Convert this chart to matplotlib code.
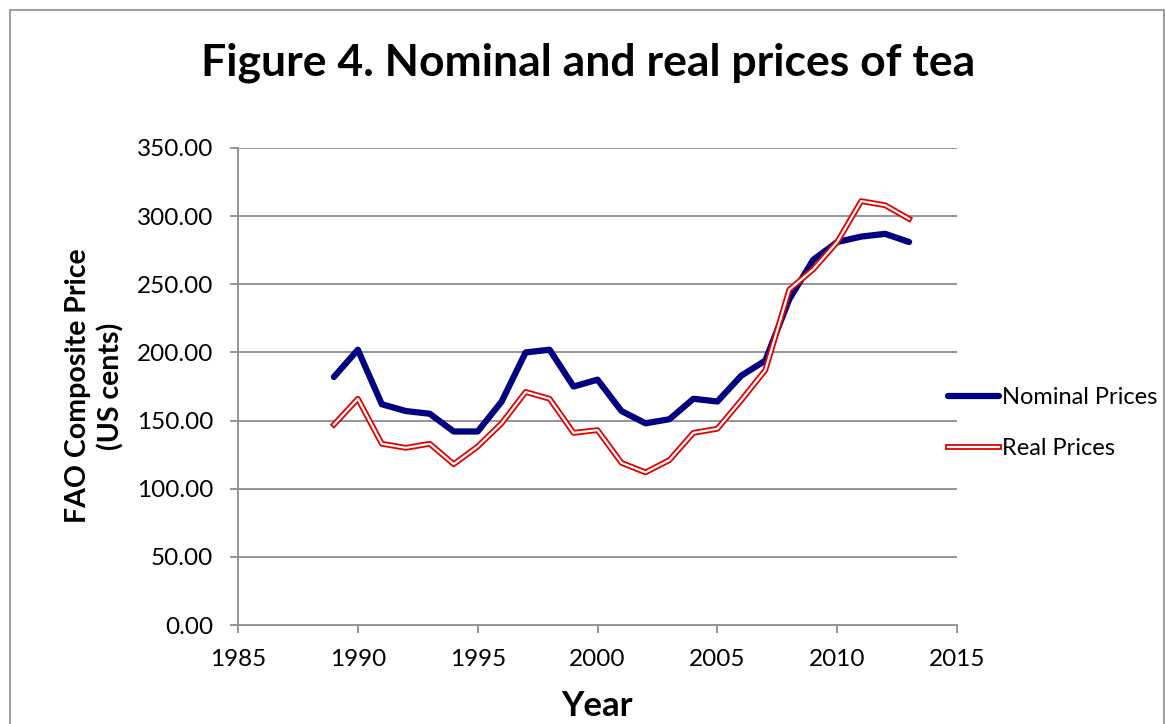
import numpy as np
import matplotlib.pyplot as plt
from matplotlib.patches import Rectangle

plt.rcParams['font.family'] = ['Lato', 'DejaVu Sans']

# data
years = list(range(1989, 2014))
nominal_prices = [182, 202, 162, 157, 155, 142, 142, 164, 200, 202, 175, 180, 157,
                  148, 151, 166, 164, 183, 194, 239, 268, 281, 285, 287, 281]
real_prices = [147, 166, 133, 130, 133, 118, 131, 148, 171, 166, 141, 143, 119,
               112, 121, 141, 144, 165, 187, 246, 261, 281, 311, 308, 298]
y_ticks = [0, 50, 100, 150, 200, 250, 300, 350]
x_ticks = [1985, 1990, 1995, 2000, 2005, 2010, 2015]

fig = plt.figure(figsize=(11.65, 7.24), dpi=100)
ax = fig.add_axes([0.2043, 0.1367, 0.6172, 0.6589])

# outer chart border
fig.patches.append(Rectangle((10 / 1165, -0.01), 1154 / 1165, 1 - 10 / 724 + 0.01,
                             transform=fig.transFigure, fill=False,
                             edgecolor='#8c8c8c', linewidth=1.2))

grid_col = '#8c8c8c'
for v in y_ticks[1:]:
    ax.axhline(v, color=grid_col, linewidth=1.3, zorder=1)

nom_line, = ax.plot(years, nominal_prices, color='#000080', linewidth=4.5,
                    solid_capstyle='round', solid_joinstyle='round', zorder=3)
real_outer, = ax.plot(years, real_prices, color='#e00000', linewidth=4.2, zorder=4)
real_inner, = ax.plot(years, real_prices, color='white', linewidth=1.6, zorder=5)

ax.set_xlim(1985, 2015)
ax.set_ylim(0, 350)
ax.set_xticks(x_ticks)
ax.set_yticks(y_ticks)
ax.set_yticklabels([f'{v:.2f}' for v in y_ticks])
ax.tick_params(axis='both', labelsize=17.5, color=grid_col, length=6, width=1.3,
               direction='out')
ax.tick_params(axis='y', pad=12)
ax.tick_params(axis='x', pad=11)

for side in ['top', 'right']:
    ax.spines[side].set_visible(False)
for side in ['left', 'bottom']:
    ax.spines[side].set_color(grid_col)
    ax.spines[side].set_linewidth(1.3)

ax.set_xlabel('Year', fontsize=25, fontweight='bold', labelpad=15)

# y label placed by hand
fig.text(95 / 1165, 1 - 386 / 724, 'FAO Composite Price\n(US cents)', fontsize=20.5,
         fontweight='bold', rotation=90, ha='center', va='center',
         multialignment='center', linespacing=1.3)

fig.text(0.505, 0.914, 'Figure 4. Nominal and real prices of tea', fontsize=32,
         fontweight='bold', ha='center', va='center')

leg = fig.legend([nom_line, (real_outer, real_inner)], ['Nominal Prices', 'Real Prices'],
                 loc='center left', bbox_to_anchor=(0.7951, 0.4157), frameon=False,
                 fontsize=17, handlelength=2.2, handletextpad=0.1, labelspacing=1.28)

plt.savefig('out.png', dpi=100)
